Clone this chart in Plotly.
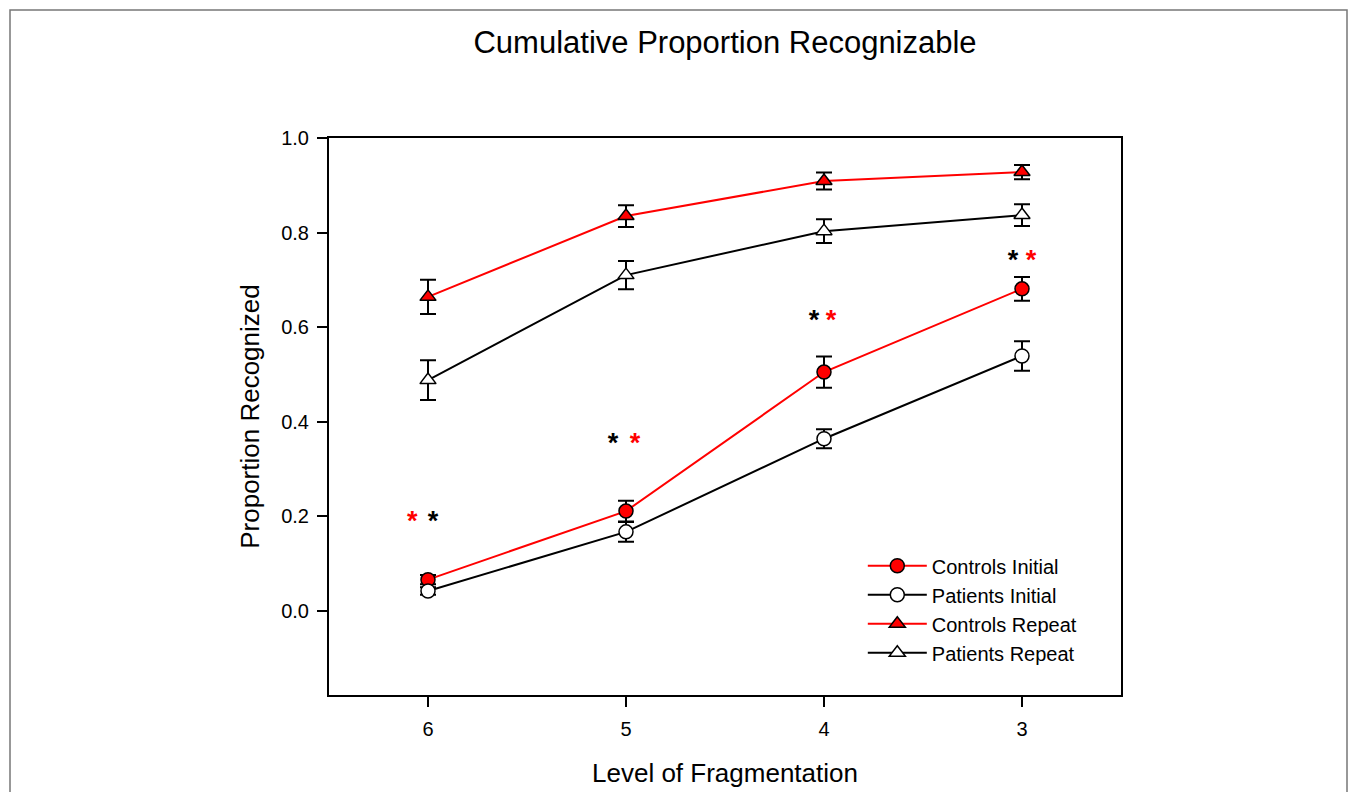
import plotly.graph_objects as go

levels = ["6", "5", "4", "3"]

controls_initial = [0.066, 0.211, 0.505, 0.681]
controls_initial_err = [0.010, 0.022, 0.033, 0.025]
patients_initial = [0.042, 0.167, 0.364, 0.539]
patients_initial_err = [0.008, 0.021, 0.020, 0.031]
controls_repeat = [0.664, 0.835, 0.909, 0.928]
controls_repeat_err = [0.036, 0.023, 0.018, 0.015]
patients_repeat = [0.488, 0.710, 0.803, 0.837]
patients_repeat_err = [0.042, 0.030, 0.025, 0.023]

# significance asterisks (anchor height per level)
star_y = [0.186, 0.351, 0.611, 0.737]
# order of asterisk colours at each level (left, right)
star_left_color = ["red", "black", "black", "black"]
star_right_color = ["black", "red", "red", "red"]

xi = list(range(len(levels)))
FONT = "Arial, Liberation Sans, sans-serif"

fig = go.Figure()

def add_series(name, y, err, color, symbol, fill):
    fig.add_trace(go.Scatter(
        x=xi, y=y, name=name, mode="lines+markers",
        line=dict(color=color, width=2),
        marker=dict(symbol=symbol, size=14, color=fill,
                    line=dict(color="black", width=1.5)),
        error_y=dict(type="data", array=err, visible=True,
                     color="black", thickness=2, width=8),
    ))

add_series("Controls Initial", controls_initial, controls_initial_err, "#ff0000", "circle", "#ff0000")
add_series("Patients Initial", patients_initial, patients_initial_err, "black", "circle", "white")
add_series("Controls Repeat", controls_repeat, controls_repeat_err, "#ff0000", "triangle-up", "#ff0000")
add_series("Patients Repeat", patients_repeat, patients_repeat_err, "black", "triangle-up", "white")

left_off = [-0.08, -0.065, -0.05, -0.045]
right_off = [0.025, 0.045, 0.035, 0.045]
for i in xi:
    for off, col in ((left_off[i], star_left_color[i]), (right_off[i], star_right_color[i])):
        fig.add_trace(go.Scatter(
            x=[xi[i] + off], y=[star_y[i]], mode="text", text=["<b>*</b>"],
            textfont=dict(color="#ff0000" if col == "red" else "black", size=27, family=FONT),
            showlegend=False, hoverinfo="skip"))

fig.update_layout(
    width=1357, height=792,
    margin=dict(l=329, r=236, t=138, b=97, autoexpand=False),
    paper_bgcolor="white", plot_bgcolor="white",
    title=dict(text="Cumulative Proportion Recognizable", x=0.5343, xanchor="center",
               y=0.947, yanchor="middle", font=dict(size=31, family=FONT, color="black")),
    font=dict(family=FONT, color="black"),
    showlegend=True,
    legend=dict(x=0.674, y=0.267, xanchor="left", yanchor="top",
                bgcolor="rgba(0,0,0,0)", font=dict(size=20, family=FONT),
                tracegroupgap=0, itemwidth=59),
    shapes=[dict(type="rect", xref="paper", yref="paper",
                 x0=(10 - 329) / 792, x1=(1347 - 329) / 792,
                 y0=-0.3, y1=(695 - 10) / 557,
                 line=dict(color="#777777", width=1.5), layer="below")],
)

fig.update_xaxes(
    range=[-0.5, 3.5], tickmode="array", tickvals=xi, ticktext=levels,
    showgrid=False, zeroline=False, showline=True, linecolor="black", linewidth=2,
    mirror=True, ticks="outside", ticklen=10, tickwidth=2, tickcolor="black",
    tickfont=dict(size=20, family=FONT), ticklabelstandoff=5, automargin=False,
    title=dict(text="Level of Fragmentation", font=dict(size=26, family=FONT), standoff=25),
)
fig.update_yaxes(
    range=[-0.178, 1.0], tickmode="array", tickvals=[0.0, 0.2, 0.4, 0.6, 0.8, 1.0],
    ticktext=["0.0", "0.2", "0.4", "0.6", "0.8", "1.0"],
    showgrid=False, zeroline=False, showline=True, linecolor="black", linewidth=2,
    mirror=True, ticks="outside", ticklen=10, tickwidth=2, tickcolor="black",
    tickfont=dict(size=20, family=FONT), ticklabelstandoff=4, automargin=False,
    title=dict(text="Proportion Recognized", font=dict(size=26, family=FONT), standoff=14),
)

fig.write_html("out.html")
